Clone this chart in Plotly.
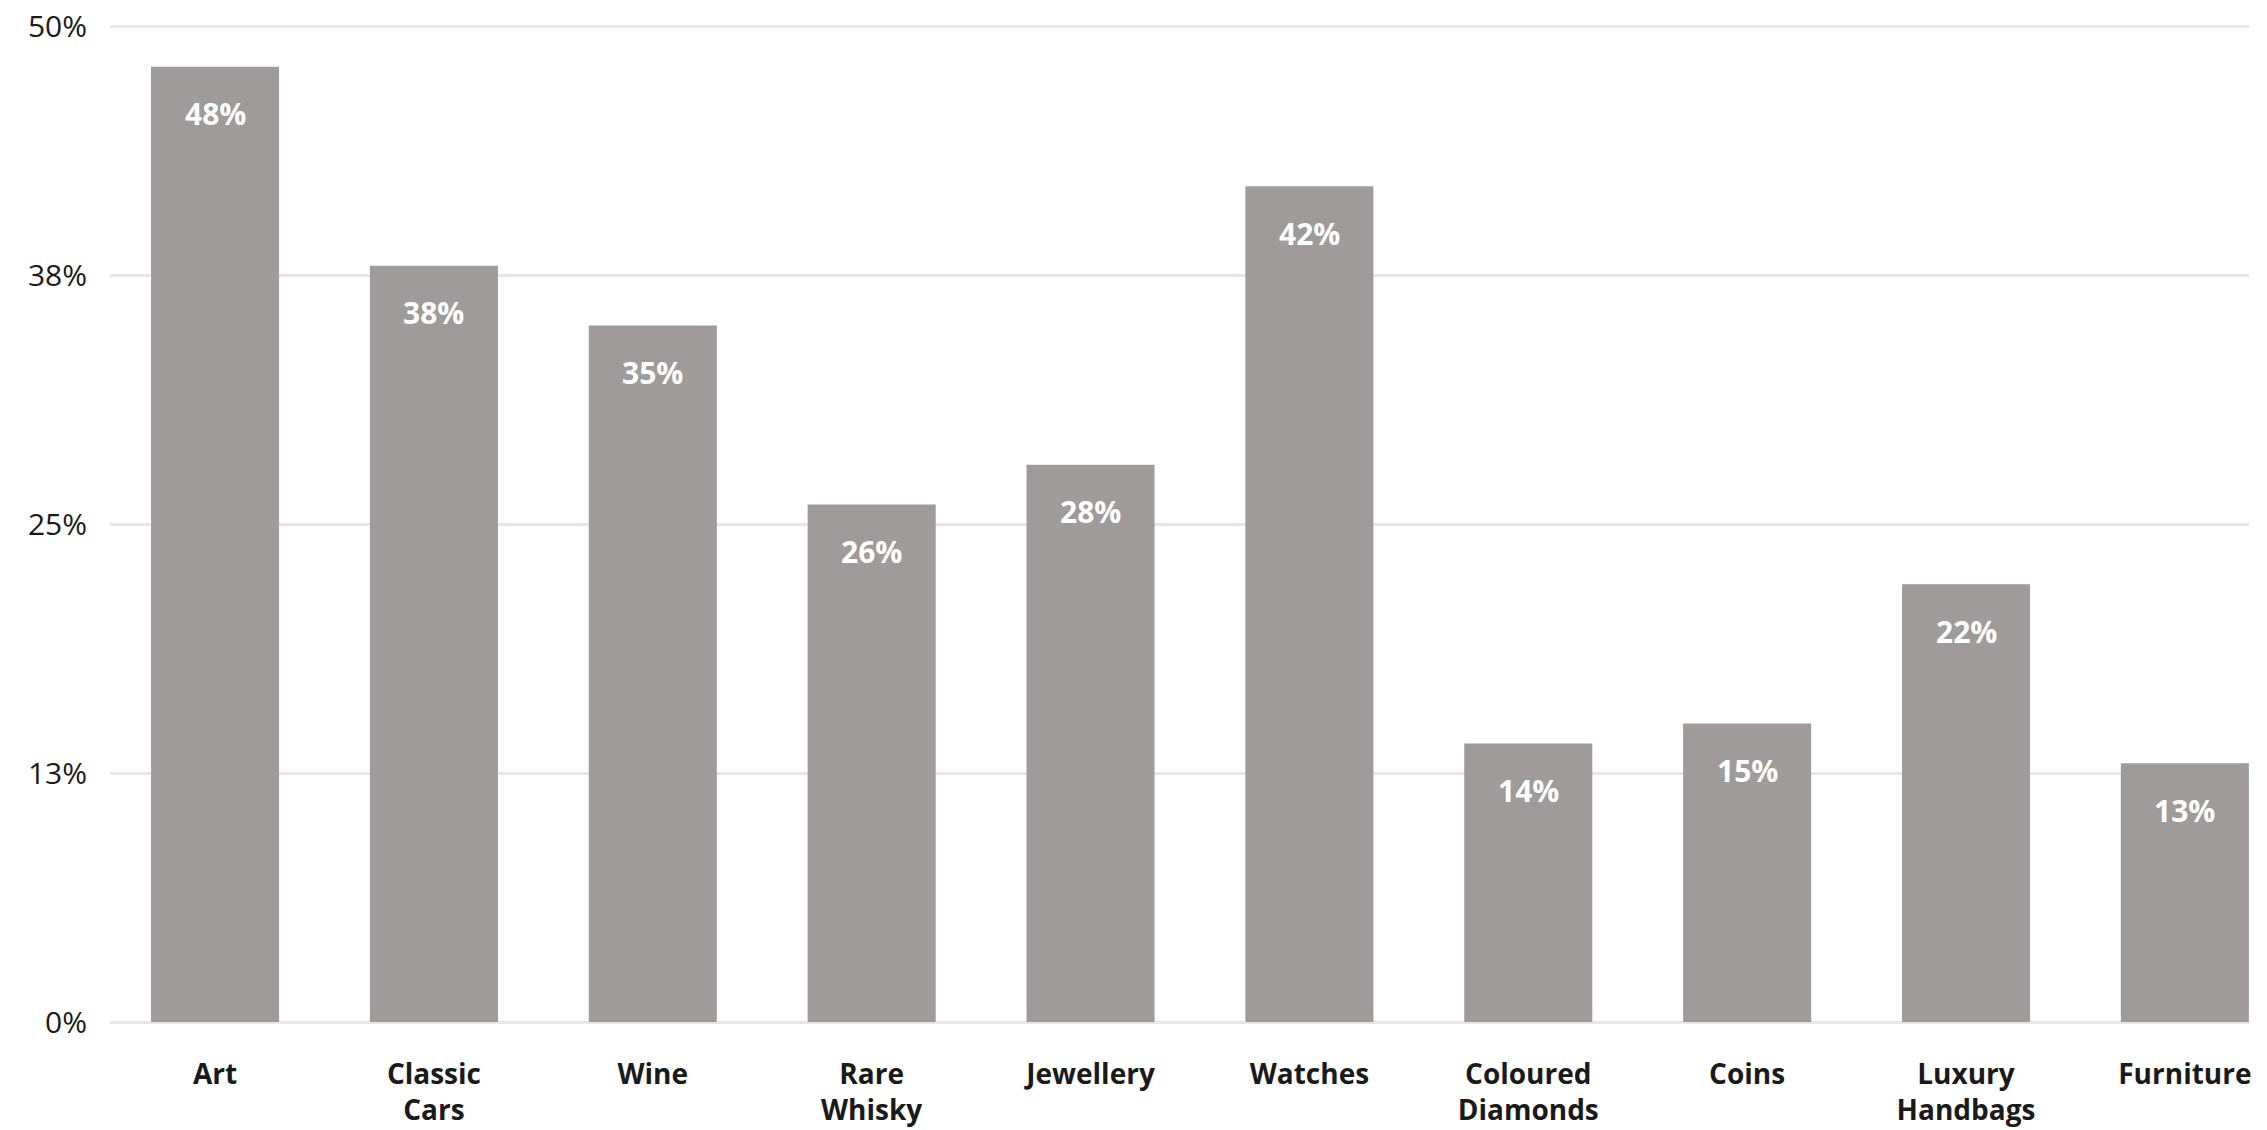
import plotly.graph_objects as go

categories = ["Art", "Classic<br>Cars", "Wine", "Rare<br>Whisky", "Jewellery", "Watches",
              "Coloured<br>Diamonds", "Coins", "Luxury<br>Handbags", "Furniture"]
values = [48, 38, 35, 26, 28, 42, 14, 15, 22, 13]
tick_vals = [0, 12.5, 25, 37.5, 50]
tick_text = ["0%", "13%", "25%", "38%", "50%"]

BAR = "#9e9b9a"
GRID = "#e6e6e6"
TXT = "#1a1a1a"
FONT = "Open Sans"

fig = go.Figure()
fig.add_trace(go.Bar(
    x=list(range(len(categories))), y=values,
    marker=dict(color=BAR, line=dict(width=0)),
    width=0.585, hoverinfo="skip",
))

for i, v in enumerate(values):
    fig.add_annotation(x=i, y=v, text=f"{v}%", showarrow=False,
                       xanchor="center", yanchor="middle", yshift=-47,
                       font=dict(family=FONT, size=30, color="white", weight=700))

fig.update_layout(
    width=2267, height=1130,
    margin=dict(l=110, r=18, t=25, b=108),
    plot_bgcolor="white", paper_bgcolor="white",
    showlegend=False,
    xaxis=dict(
        range=[-0.48, 9.293],
        tickmode="array", tickvals=list(range(len(categories))), ticktext=categories,
        tickfont=dict(family=FONT, size=28, color=TXT, weight=700),
        showgrid=False, zeroline=False, showline=False, ticks="",
        ticklabelstandoff=33, ticklabeloverflow="allow", automargin=False,
    ),
    yaxis=dict(
        range=[0, 50.1],
        tickmode="array", tickvals=tick_vals, ticktext=tick_text,
        tickfont=dict(family=FONT, size=30, color=TXT),
        showgrid=True, gridcolor=GRID, gridwidth=3,
        zeroline=True, zerolinecolor=GRID, zerolinewidth=3,
        showline=False, ticks="",
        ticklabelstandoff=22, automargin=False, ticklabeloverflow="allow",
    ),
)

fig.write_html("out.html", config={"displayModeBar": False},
               post_script="document.body.style.margin='0px';")
